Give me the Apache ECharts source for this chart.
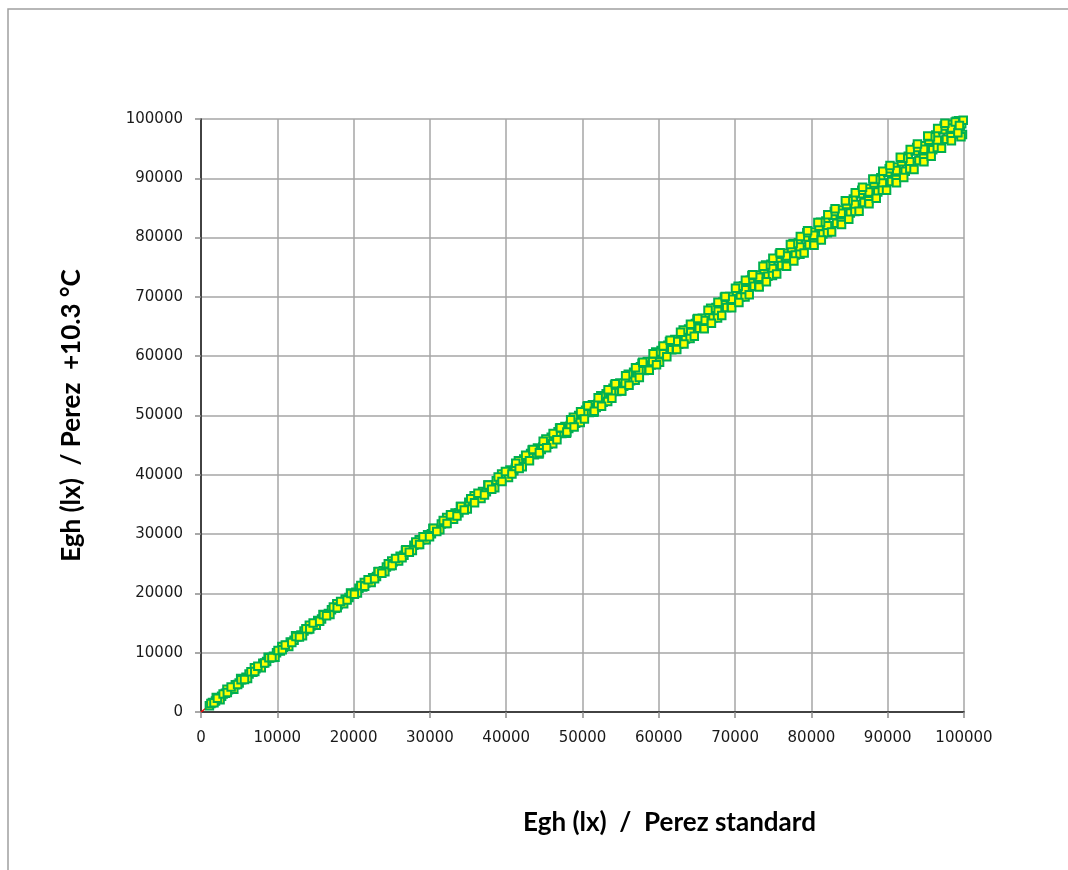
<!DOCTYPE html>
<html>
<head>
<meta charset="utf-8">
<script src="https://cdn.jsdelivr.net/npm/echarts@6/dist/echarts.min.js"></script>
<style>
html,body{margin:0;padding:0;background:#fff;}
#chart{width:1068px;height:870px;}
</style>
</head>
<body>
<div id="chart"></div>
<script>
// Egh (lx) Perez standard  (x)
const perezStandard = [
1100,1500,1900,2300,2700,3200,3600,4100,4500,5000,5400,5900,6300,6800,7200,7700,8100,8600,9000,9500,
9900,10400,10800,11300,11700,12200,12600,13100,13500,14000,14400,14900,15300,15800,16200,16700,17100,17600,18000,18500,
18900,19400,19800,20300,20700,21200,21600,22100,22500,23000,23400,23900,24300,24800,25200,25700,26100,26600,27000,27500,
27900,28400,28800,29300,29700,30200,30600,31100,31500,32000,32400,32900,33300,33800,34200,34700,35100,35600,36000,36500,
36900,37400,37800,38300,38700,39200,39600,40100,40500,41000,41400,41900,42300,42800,43200,43700,44100,44600,45000,45500,
45900,46400,46800,47300,47700,48200,48600,49100,49500,50000,50400,50900,51300,51800,52200,52700,53100,53600,54000,54500,
54900,55400,55800,56300,56700,57200,57600,58100,58500,59000,59400,59900,60300,60800,61200,61700,62100,62600,63000,63500,
63900,64400,64800,65300,65700,66200,66600,67100,67500,68000,68400,68900,69300,69800,70200,70700,71100,71600,72000,72500,
72900,73400,73800,74300,74700,75200,75600,76100,76500,77000,77400,77900,78300,78800,79200,79700,80100,80600,81000,81500,
81900,82400,82800,83300,83700,84200,84600,85100,85500,86000,86400,86900,87300,87800,88200,88700,89100,89600,90000,90500,
90900,91400,91800,92300,92700,93200,93600,94100,94500,95000,95400,95900,96300,96800,97200,97700,98100,98600,99000,99500,
99700,99800,
60500,62300,64100,65900,67700,69500,71300,73100,74900,76700,78500,80300,82100,83900,85700,87500,89300,91100,92900,94700,
96500,98300,99300,
41200,43000,44800,46600,48400,50200,52000,53800,55600,57400,59200,
2000,2500,3400,4300,5200,6100,7000,7900,8800,9700,10600,11500,12400,13300,14200,15100,16000,16900,17800,18700,
19600,20500,21400,22300,23200,24100,25000,25900,26800,27700,28600,29500,30400,31300,32200,33100,34000,34900,35800,36700,
37600,38500,39400,40300,41600,42100,43400,44300,45200,46100,47000,47900,48800,49700,50600,51500,52400,53300,54200,55100,
56000,56900,57800,58700,59600,60100,61400,62300,63200,64100,65000,65900,66800,67700,68600,69500,70400,71300,72200,73100,
74000,74900,75800,76700,77600,78500,79400,80300,81200,82100,83000,83900,84800,85700,86600,87500,88400,89300,90200,91100,
92000,92900,93800,94700,95600,96500,97400,98300,99900,99600,
1300,1700,2150,2900,3450,3950,4800,5250,5700,6550,7050,7450,8350,8900,9300,10100,10650,11050,11900,12450,
12900,13750,14250,14700,15550,16050,16450,17350,17850,18300,19150,19650,20100,20950,21450,21900,22750,23250,23700,24550,
25050,25500,26350,26850,27300,28150,28650,29100,29950,30450,30900,31750,32250,32700,33550,34050,34500,35350,35850,36300,
37150,37650,38100,38950,39450,39900,40750,41250,41700,42550,43050,43500,44350,44850,45300,46150,46650,47100,47950,48450,
48900,49750,50250,50700,51550,52050,52500,53350,53850,54300,55150,55650,56100,56950,57450,57900,58750,59250,59700,60550,
61050,61500,62350,62850,63300,64150,64650,65100,65950,66450,66900,67750,68250,68700,69550,70050,70500,71350,71850,72300,
73150,73650,74100,74950,75450,75900,76750,77250,77700,78550,79050,79500,80350,80850,81300,82150,82650,83100,83950,84450,
84900,85750,86250,86700,87550,88050,88500,89350,89850,90300,91150,91650,92100,92950,93450,93900,94750,95250,95700,96550,
97050,97500,98350,98850,99200,99400
];
// Egh (lx) Perez +10.3 °C  (y)
const perezPlus103 = [
1050,1620,1850,2400,2650,3150,3750,4000,4600,4900,5500,5850,6400,6700,7300,7650,8200,8500,9100,9400,
10000,10300,10900,11200,11800,12100,12700,13000,13650,13900,14500,14800,15450,15700,16300,16600,17250,17500,18100,18400,
19050,19300,19900,20200,20850,21100,21750,22000,22650,22850,23550,23800,24450,24650,25350,25550,26250,26450,27200,27350,
28100,28250,29000,29100,29900,30050,30800,30900,31700,31800,32650,32700,33550,33600,34450,34500,35350,35400,36250,36300,
37200,37150,38100,38050,39000,38950,39900,39850,40800,40700,41750,41600,42650,42500,43600,43400,44500,44250,45400,45150,
46350,46050,47250,46950,48150,47800,49050,48700,50000,49600,50900,50500,51800,51350,52700,52250,53650,53150,54600,54050,
55500,54950,56450,55850,57300,56700,58200,57600,59100,58500,60000,59350,60950,60200,61850,61100,62800,62000,63700,62900,
64600,63800,65500,64700,66400,65600,67300,66450,68200,67300,69150,68200,70050,69100,70950,70000,71850,70900,72800,71800,
73700,72650,74600,73500,75500,74400,76450,75300,77350,76200,78250,77050,79150,77950,80100,78800,80950,79700,81900,80600,
82800,81500,83750,82400,84650,83250,85600,84150,86500,85000,87400,85900,88300,86800,89200,87700,90100,88600,91000,89450,
91900,90350,92800,91200,93700,92100,94600,93000,95500,93900,96400,94800,97300,95700,98200,96600,99100,97500,99600,98300,
99200,97400,
60400,62500,64000,66000,67600,69600,71200,73300,74800,76900,78400,80400,82000,84100,85600,87700,89200,91300,92800,94900,
96400,98500,99700,
41100,43100,44700,46700,48300,50300,51900,53900,55500,57600,59100,
2450,2050,3850,3850,5650,5650,7450,7450,9250,9250,11050,11050,12850,12850,14650,14650,16450,16450,18250,18250,
20050,20050,21850,21850,23650,23650,25450,25450,27250,27250,29050,29050,30950,30750,32800,32500,34650,34250,36450,36000,
38300,37800,40150,39550,42350,41350,44200,43500,46050,45250,47900,47000,49700,48800,51550,50550,53350,52350,55150,54150,
56950,55950,58800,57700,60700,59000,62500,61200,64400,63000,66250,64700,68100,66450,69950,68250,71800,70000,73600,71800,
75400,73600,77200,75400,79000,77200,80800,79000,82600,80800,84400,82600,86200,84400,88000,86200,89800,88000,91600,89800,
93400,91600,95200,93400,97000,95200,98800,97000,99800,97000,
1450,1550,2300,3050,3300,4200,4650,5450,5500,6800,6850,7700,8250,9150,9200,10350,10500,11300,11700,12750,
12650,14050,14000,15000,15300,16400,16250,17700,17600,18650,18900,20000,19850,21350,21200,22300,22450,23700,23400,25000,
24700,25900,26000,27350,26950,28650,28250,29550,29550,31000,30450,32300,31800,33250,33050,34650,34050,35950,35300,36900,
36600,38300,37550,39650,38850,40550,40150,41950,41050,43300,42350,44250,43700,45650,44550,46950,45900,47950,47200,49300,
48050,50650,49400,51650,50700,53000,51550,54350,52900,55350,54150,56700,55100,58050,56400,59000,57650,60400,58550,61700,
59900,62700,61150,64050,62050,65400,63350,66350,64650,67750,65550,69100,66850,70050,68150,71450,69050,72800,70350,73750,
71650,75150,72550,76500,73850,77450,75150,78850,76050,80200,77400,81150,78700,82550,79600,83850,80950,84850,82200,86200,
83100,87550,84450,88500,85700,89900,86650,91200,88000,92150,89250,93550,90150,94850,91500,95800,92800,97150,93700,98400,
95050,99300,96350,99500,97700,98900
];
const refLineX = [0, 100000];
const refLineY = [0, 100000];

const points = perezStandard.map((x, i) => [x, perezPlus103[i]]);
const refLine = refLineX.map((x, i) => [x, refLineY[i]]);

const chart = echarts.init(document.getElementById('chart'), null, {renderer: 'canvas'});
const labelFont = {fontFamily: 'DejaVu Sans', fontSize: 15, color: '#1a1a1a'};
const titleFont = {fontFamily: 'Lato', fontWeight: 'bold', fontSize: 26, color: '#000'};
const plain = v => String(v);
chart.setOption({
  animation: false,
  backgroundColor: '#fff',
  graphic: [{
    type: 'rect',
    shape: {x: 8, y: 9, width: 1200, height: 1000},
    style: {fill: 'none', stroke: '#a0a0a0', lineWidth: 1.5},
    silent: true
  }],
  grid: {left: 201, right: 104, top: 119, bottom: 158, containLabel: false},
  xAxis: [{
    type: 'value', min: 0, max: 100000, interval: 10000,
    name: 'Egh (lx)  /  Perez standard',
    nameLocation: 'middle', nameGap: 98,
    nameTextStyle: Object.assign({padding: [0, 0, 0, 174]}, titleFont),
    axisLine: {show: true, onZero: false, lineStyle: {color: '#8c8c8c', width: 1.5}},
    axisTick: {show: true, length: 6, lineStyle: {color: '#8c8c8c', width: 1.5}},
    axisLabel: Object.assign({margin: 19, formatter: plain}, labelFont),
    splitLine: {show: true, lineStyle: {color: '#a6a6a6', width: 1.5}}
  }, {
    type: 'value', min: 0, max: 100000, position: 'top',
    axisLine: {show: true, lineStyle: {color: '#262626', width: 1.5}},
    axisTick: {show: false}, axisLabel: {show: false}, splitLine: {show: false}
  }],
  yAxis: [{
    type: 'value', min: 0, max: 100000, interval: 10000,
    name: 'Egh (lx)  / Perez  +10.3 °C',
    nameLocation: 'middle', nameGap: 116,
    nameTextStyle: titleFont,
    axisLine: {show: true, onZero: false, lineStyle: {color: '#8c8c8c', width: 1.5}},
    axisTick: {show: true, length: 6, lineStyle: {color: '#8c8c8c', width: 1.5}},
    axisLabel: Object.assign({margin: 18, formatter: plain}, labelFont),
    splitLine: {show: true, lineStyle: {color: '#a6a6a6', width: 1.5}}
  }, {
    type: 'value', min: 0, max: 100000, position: 'right',
    axisLine: {show: true, lineStyle: {color: '#262626', width: 1.5}},
    axisTick: {show: false}, axisLabel: {show: false}, splitLine: {show: false}
  }],
  series: [{
    type: 'line', data: refLine, symbol: 'none', z: 1,
    lineStyle: {color: '#ff0000', width: 1.5}
  }, {
    type: 'scatter', data: points, symbol: 'rect', symbolSize: 7.5, z: 2,
    itemStyle: {color: '#ffff00', borderColor: '#00b050', borderWidth: 2, opacity: 1}
  }]
});
</script>
</body>
</html>
